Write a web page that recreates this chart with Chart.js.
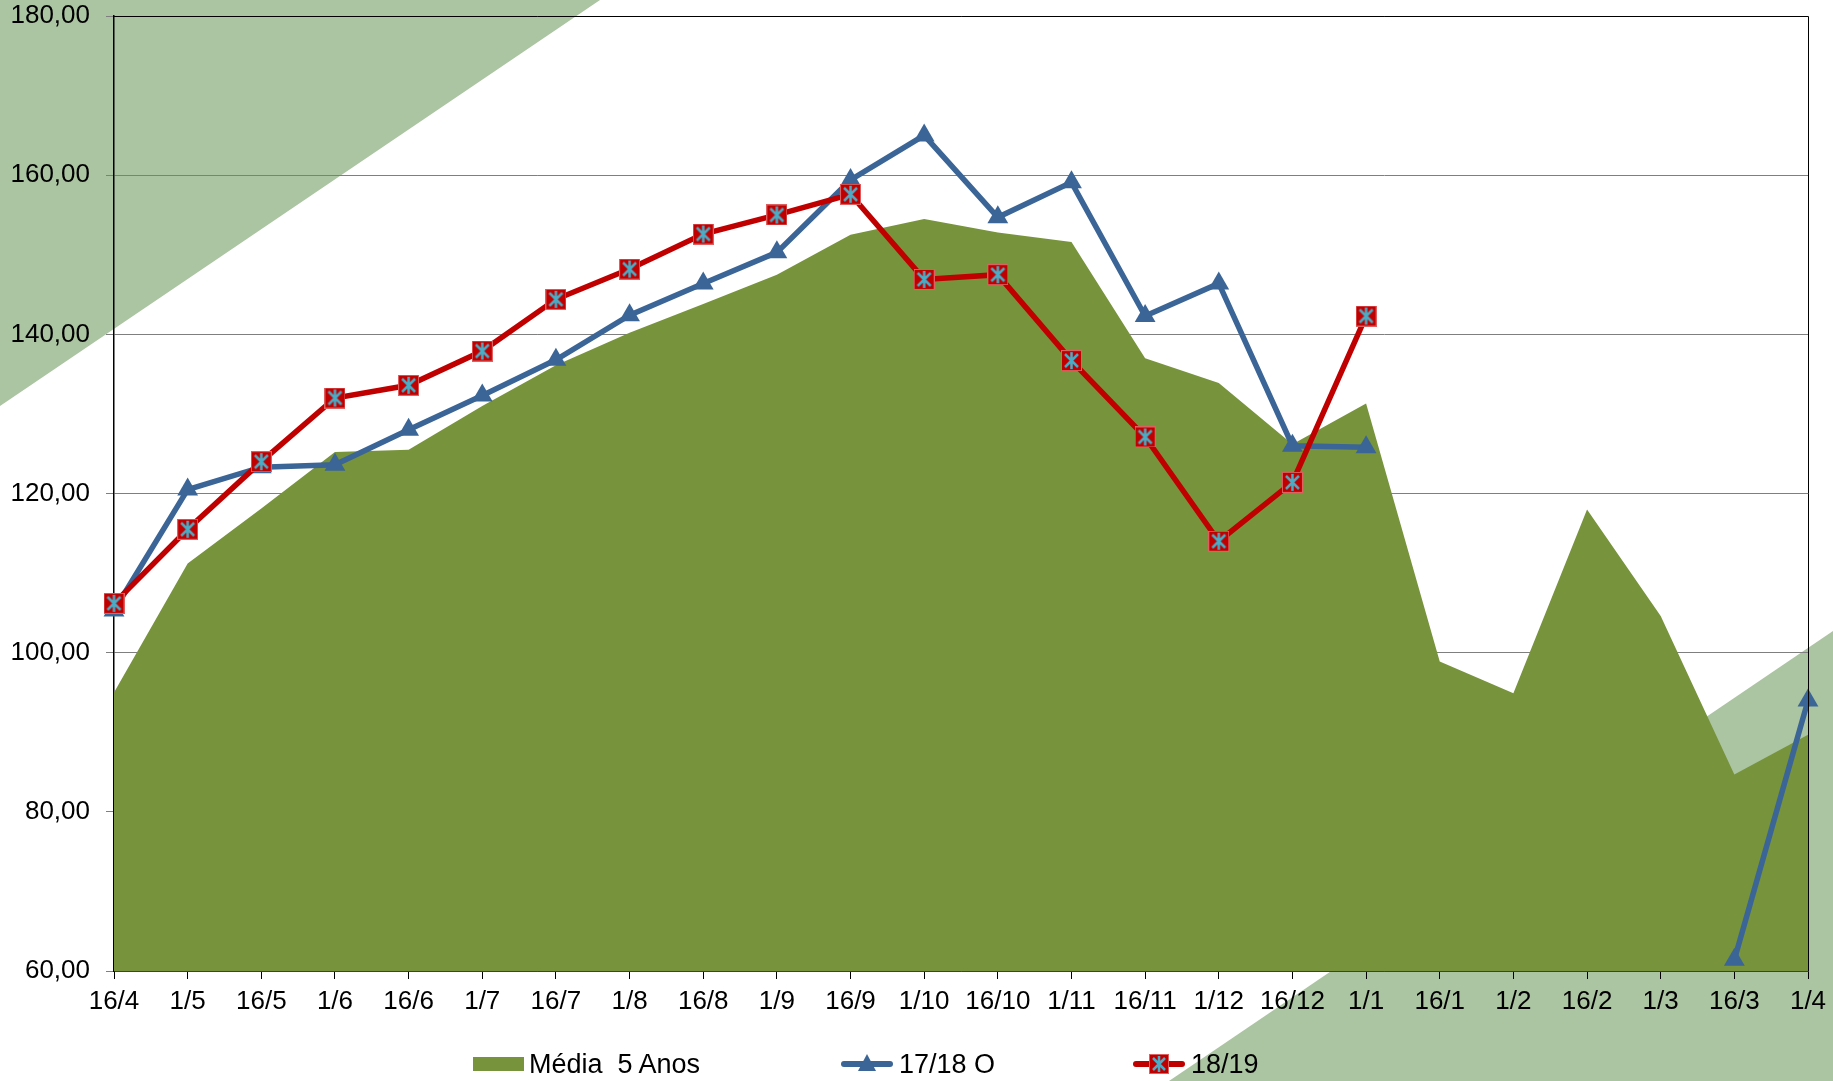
<!DOCTYPE html>
<html>
<head>
<meta charset="utf-8">
<script src="https://cdn.jsdelivr.net/npm/chart.js@4.4.1/dist/chart.umd.min.js"></script>
<style>
  body { margin: 0; background: #fff; }
  #wrap { position: relative; width: 1833px; height: 1081px; overflow: hidden; }
  #legend { position: absolute; top: 1049px; left: 0; width: 1833px; height: 30px;
            font-family: "Liberation Sans", Arial, sans-serif; font-size: 27px; color: #000; }
  .item { position: absolute; display: flex; align-items: center; height: 30px; white-space: pre; }
  .item span { margin-left: 5px; }
</style>
</head>
<body>
<div id="wrap">
  <canvas id="chart" width="1833" height="1081"></canvas>
  <div id="legend"></div>
</div>
<script>
// categorias (datas)
const labels = ['16/4','1/5','16/5','1/6','16/6','1/7','16/7','1/8','16/8','1/9','16/9','1/10',
  '16/10','1/11','16/11','1/12','16/12','1/1','16/1','1/2','16/2','1/3','16/3','1/4'];

// séries
const media5Anos = [95, 111.2, 118.1, 125.2, 125.5, 131, 136.1, 140.2, 143.8, 147.5, 152.5, 154.5,
  152.8, 151.6, 137, 133.9, 126.2, 131.3, 98.9, 94.9, 118, 104.6, 84.7, 89.7];
const safra1718 = [105.3, 120.5, 123.3, 123.6, 128, 132.3, 136.8, 142.4, 146.4, 150.3, 159.4, 165,
  154.7, 159.1, 142.3, 146.4, 126, 125.8, null, null, null, null, 61.4, 94];
const safra1819 = [106.2, 115.5, 124, 132, 133.6, 137.9, 144.4, 148.2, 152.6, 155, 157.6, 146.9,
  147.5, 136.7, 127.1, 114, 121.4, 142.3, null, null, null, null, null, null];

const yMin = 60, yMax = 180, yStep = 20;

const verde = '#77933c';
const azul = '#3a6596';
const vermelho = '#c00000';
const ciano = '#4bacc6';
const fonte = '"Liberation Sans", Arial, sans-serif';

// marcador quadrado vermelho com asterisco
function marcadorX(size) {
  const c = document.createElement('canvas');
  c.width = size; c.height = size;
  const g = c.getContext('2d');
  g.fillStyle = vermelho;
  g.fillRect(0, 0, size, size);
  g.strokeStyle = '#e06060';
  g.lineWidth = 1;
  g.strokeRect(0.5, 0.5, size - 1, size - 1);
  g.strokeStyle = ciano;
  g.lineWidth = 2.5;
  g.beginPath();
  g.moveTo(size / 2, 2); g.lineTo(size / 2, size - 2);
  g.moveTo(4, 4); g.lineTo(size - 4, size - 4);
  g.moveTo(size - 4, 4); g.lineTo(4, size - 4);
  g.stroke();
  return c;
}
const marcador = marcadorX(21);

// fundo com os triângulos verde-claros
const fundo = {
  id: 'fundo',
  beforeDraw(chart) {
    const ctx = chart.ctx, w = chart.width, h = chart.height;
    ctx.save();
    ctx.fillStyle = '#fff';
    ctx.fillRect(0, 0, w, h);
    ctx.fillStyle = '#abc4a1';
    ctx.beginPath();
    ctx.moveTo(0, 0); ctx.lineTo(600, 0); ctx.lineTo(0, 406); ctx.closePath();
    ctx.fill();
    ctx.beginPath();
    ctx.moveTo(1169, h); ctx.lineTo(w, 631); ctx.lineTo(w, h); ctx.closePath();
    ctx.fill();
    ctx.restore();
  }
};

// borda superior e direita da área de plotagem
const borda = {
  id: 'borda',
  afterDatasetsDraw(chart) {
    const a = chart.chartArea, ctx = chart.ctx;
    const r = Math.round(a.right) + 0.5, t = Math.round(a.top) + 0.5;
    ctx.save();
    ctx.strokeStyle = '#000';
    ctx.lineWidth = 1;
    ctx.beginPath();
    ctx.moveTo(a.left, t);
    ctx.lineTo(r, t);
    ctx.lineTo(r, a.bottom);
    ctx.stroke();
    ctx.restore();
  }
};

const ctx = document.getElementById('chart');
const myChart = new Chart(ctx, {
  type: 'line',
  data: {
    labels: labels,
    datasets: [
      {
        label: 'Média  5 Anos',
        data: media5Anos,
        backgroundColor: verde,
        borderWidth: 0,
        pointRadius: 0,
        fill: 'start',
        order: 3
      },
      {
        label: '17/18 O',
        data: safra1718,
        borderColor: azul,
        backgroundColor: azul,
        borderWidth: 5.5,
        pointStyle: 'triangle',
        pointRadius: 12,
        pointBorderWidth: 0,
        spanGaps: false,
        clip: false,
        order: 2
      },
      {
        label: '18/19',
        data: safra1819,
        borderColor: vermelho,
        backgroundColor: vermelho,
        borderWidth: 5.5,
        pointStyle: marcador,
        pointRadius: 10,
        spanGaps: false,
        clip: false,
        order: 1
      }
    ]
  },
  options: {
    responsive: false,
    animation: false,
    events: [],
    layout: { padding: { left: 0, right: 25, top: 16, bottom: 70 } },
    plugins: { legend: { display: false }, tooltip: { enabled: false } },
    scales: {
      x: {
        offset: false,
        grid: { drawOnChartArea: false, drawTicks: true, tickLength: 8, color: '#000' },
        border: { color: '#000', width: 1.5 },
        ticks: {
          autoSkip: false, maxRotation: 0, padding: 7, color: '#000',
          font: { family: fonte, size: 26 }
        },
        afterFit(scale) {
          scale.height = 40;
          scale.paddingLeft = 0; scale.paddingRight = 0;
        }
      },
      y: {
        min: yMin, max: yMax,
        grid: { color: '#7f7f7f', lineWidth: 1, tickLength: 8 },
        border: { color: '#000', width: 1.5 },
        ticks: {
          stepSize: yStep, padding: 16, color: '#000',
          font: { family: fonte, size: 26 },
          callback: v => v.toFixed(2).replace('.', ',')
        },
        afterFit(scale) {
          scale.width = 114;
          scale.paddingTop = 0; scale.paddingBottom = 0;
        }
      }
    }
  },
  plugins: [fundo, borda]
});

// legenda
function iconeArea() {
  const c = document.createElement('canvas');
  c.width = 51; c.height = 14;
  const g = c.getContext('2d');
  g.fillStyle = verde;
  g.fillRect(0, 0, 51, 14);
  return c;
}
function iconeLinha(cor, tipo) {
  const c = document.createElement('canvas');
  c.width = 54; c.height = 26;
  const g = c.getContext('2d');
  g.strokeStyle = cor; g.lineWidth = 6; g.lineCap = 'round';
  g.beginPath(); g.moveTo(4, 13); g.lineTo(50, 13); g.stroke();
  if (tipo === 'tri') {
    g.fillStyle = cor;
    g.beginPath(); g.moveTo(27, 3); g.lineTo(36, 20); g.lineTo(18, 20); g.closePath(); g.fill();
  } else {
    g.drawImage(marcadorX(20), 17, 3);
  }
  return c;
}
const legenda = [
  { x: 473, icon: iconeArea(), text: 'Média  5 Anos' },
  { x: 840, icon: iconeLinha(azul, 'tri'), text: '17/18 O' },
  { x: 1132, icon: iconeLinha(vermelho, 'sq'), text: '18/19' }
];
const leg = document.getElementById('legend');
legenda.forEach(function(it) {
  const d = document.createElement('div');
  d.className = 'item';
  d.style.left = it.x + 'px';
  d.appendChild(it.icon);
  const s = document.createElement('span');
  s.textContent = it.text;
  d.appendChild(s);
  leg.appendChild(d);
});
</script>
</body>
</html>
